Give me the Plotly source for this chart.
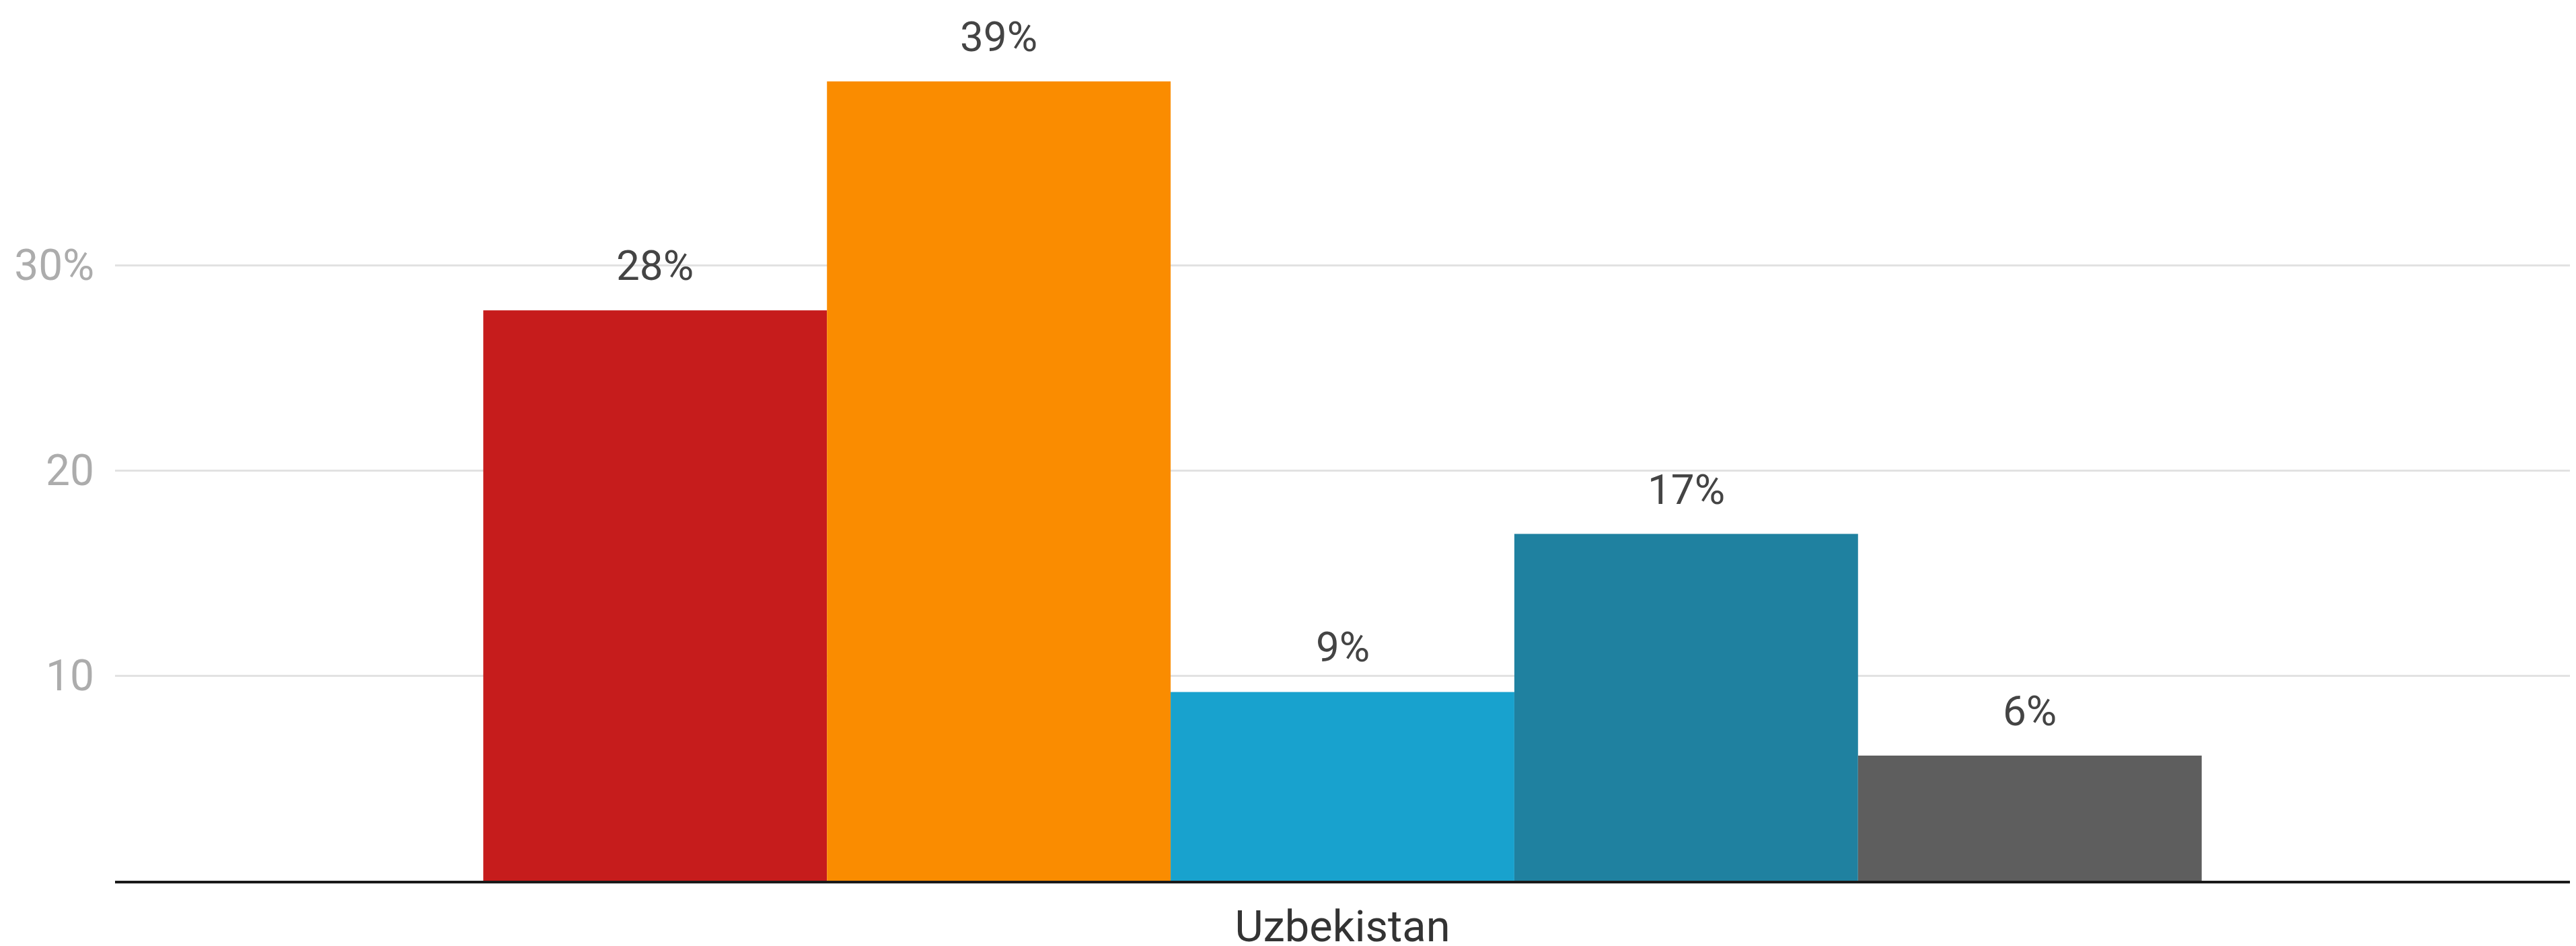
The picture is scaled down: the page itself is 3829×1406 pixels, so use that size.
import plotly.graph_objects as go

categories = ["Uzbekistan"]
series_names = ["Series A", "Series B", "Series C", "Series D", "Series E"]
series_values = [27.8, 38.95, 9.2, 16.9, 6.1]
series_colors = ["#c61c1c", "#fa8c00", "#18a2ce", "#1f81a0", "#5e5e5e"]
y_tick_vals = [10, 20, 30]
y_tick_text = ["10", "20", "30%"]

W, H = 3829, 1406
BARGAP = 0.3
FONT = "Roboto, 'Open Sans', Arial, sans-serif"

fig = go.Figure()
for name, val, col in zip(series_names, series_values, series_colors):
    fig.add_trace(go.Bar(
        x=categories, y=[val], name=name,
        marker=dict(color=col, line=dict(width=0)),
        hoverinfo="skip",
    ))

# value labels above bars (placed in data coordinates of the grouped bars)
n = len(series_values)
bw = (1 - BARGAP) / n
annotations = []
for k, val in enumerate(series_values):
    xoff = (k - (n - 1) / 2) * bw
    annotations.append(dict(
        x=xoff, y=val, xref="x", yref="y",
        text=f"{round(val):d}%", showarrow=False,
        yanchor="bottom", xanchor="center", yshift=28,
        font=dict(family=FONT, size=62, color="#444444"),
    ))

fig.update_layout(
    width=W, height=H,
    margin=dict(l=171, r=9, t=0, b=97, autoexpand=False),
    paper_bgcolor="white", plot_bgcolor="white",
    barmode="group", bargap=BARGAP, bargroupgap=0,
    showlegend=False,
    font=dict(family=FONT, size=62, color="#444444"),
    annotations=annotations,
    xaxis=dict(
        type="category", automargin=False,
        showline=True, linecolor="#1a1a1a", linewidth=4,
        showgrid=False, ticks="", ticklabelstandoff=8,
        tickfont=dict(family=FONT, size=65, color="#333333"),
    ),
    yaxis=dict(
        range=[0, 42.92], automargin=False,
        tickvals=y_tick_vals, ticktext=y_tick_text,
        showgrid=True, gridcolor="#e2e2e2", gridwidth=3,
        zeroline=False, showline=False, ticks="",
        ticklabelstandoff=30,
        tickfont=dict(family=FONT, size=64, color="#acacac"),
    ),
)

fig.write_html(
    "out.html",
    config={"displayModeBar": False},
    post_script="document.body.style.margin='0';document.body.style.overflow='hidden';",
)
